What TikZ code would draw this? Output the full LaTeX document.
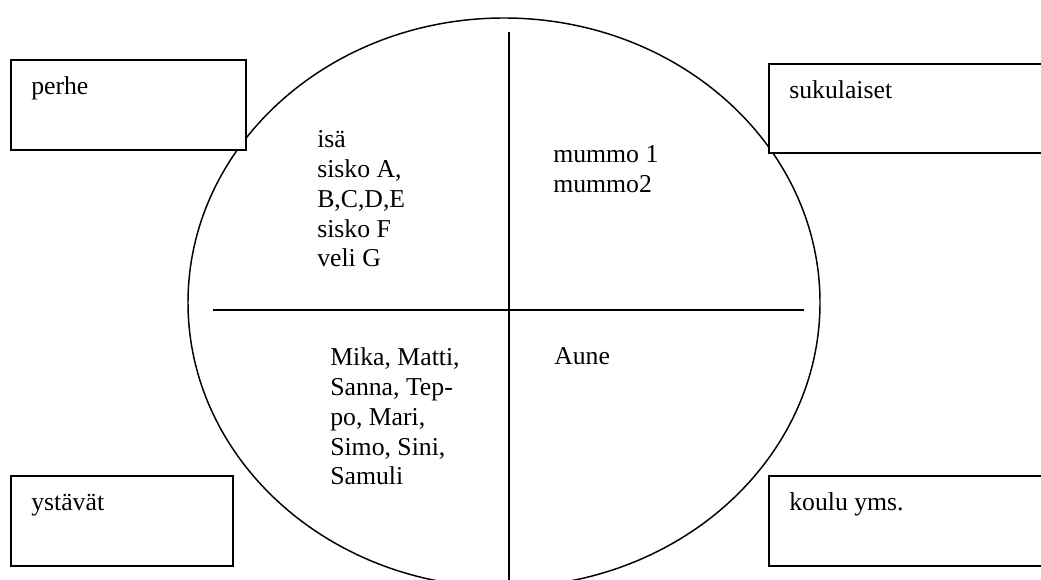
\documentclass[tikz,border=0pt]{standalone}
\usepackage{fontspec}
\setmainfont{Liberation Serif}
\begin{document}
\begin{tikzpicture}[x=0.75pt,y=-0.75pt,
  lbl/.style={anchor=base west,inner sep=0pt,font=\fontsize{19.3}{22.3}\selectfont},
  frame/.style={draw,fill=white,line width=1.3pt},
  divider/.style={line width=1.4pt},
  ring/.style={draw,line width=1.1pt}]
\useasboundingbox (0,0) rectangle (1041,580);
\clip (0,0) rectangle (1041,580);
\fill[white] (0,0) rectangle (1041,580);
% circle
\draw[ring] (504,302.6) ellipse [x radius=316, y radius=284.6];
\coordinate (vt) at (509,32);
\coordinate (vb) at (509,582);
\coordinate (hl) at (213,310);
\coordinate (hr) at (804,310);
\draw[divider] (vt) -- (vb);
\draw[divider] (hl) -- (hr);
% boxes
\draw[frame] (11,60) rectangle (246,150);
\draw[frame] (769,64) rectangle (1045,153);
\draw[frame] (11,476) rectangle (233,566);
\draw[frame] (769,476) rectangle (1045,566);
\node[lbl] (perhe) at (31,95) {perhe};
\node[lbl] (suku) at (789,99) {sukulaiset};
\node[lbl] (ystavat) at (31,510) {ystävät};
\node[lbl] (koulu) at (789,510) {koulu yms.};
% quadrant texts
\node[lbl] (fam) at (317,148) {\begin{tabular}[t]{@{}l@{}}isä\\ sisko A,\\ B,C,D,E\\ sisko F\\ veli G\end{tabular}};
\node[lbl] (rel) at (553,163) {\begin{tabular}[t]{@{}l@{}}mummo 1\\ mummo2\end{tabular}};
\node[lbl] (fr) at (330,366) {\begin{tabular}[t]{@{}l@{}}Mika, Matti,\\ Sanna, Tep-\\ po, Mari,\\ Simo, Sini,\\ Samuli\end{tabular}};
\node[lbl] (sch) at (554,365) {Aune};
\end{tikzpicture}
\end{document}
